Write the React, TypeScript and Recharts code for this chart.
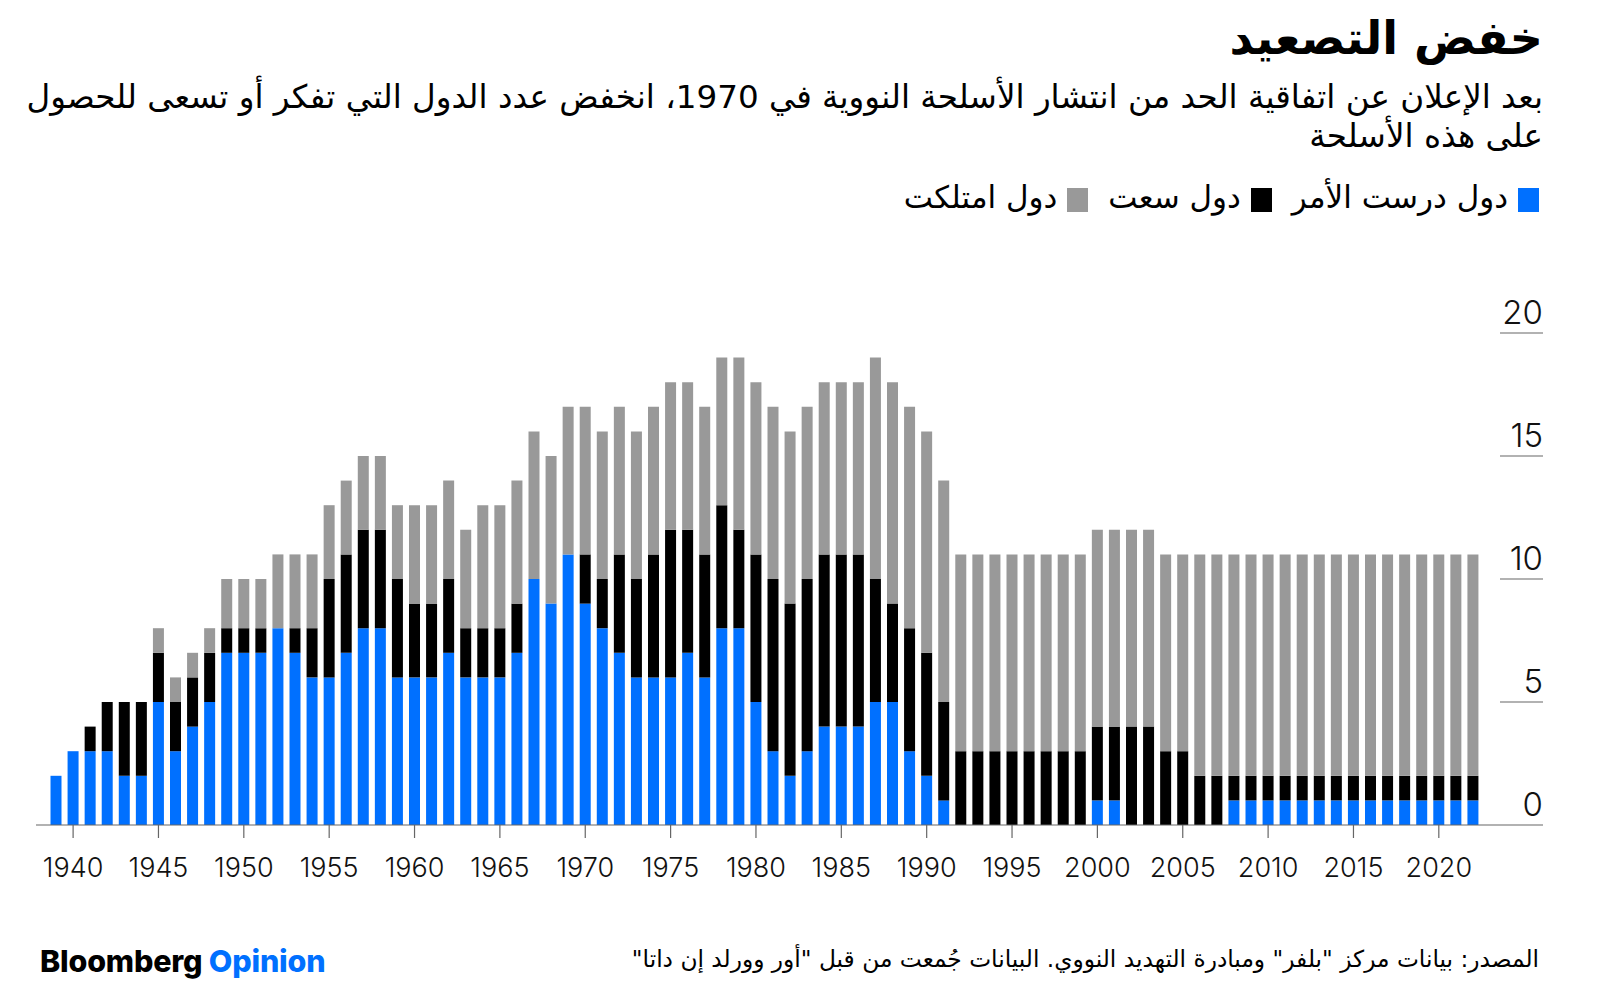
import { Bar, BarChart, XAxis, YAxis } from "recharts";

const years = [
  1939, 1940, 1941, 1942, 1943, 1944, 1945, 1946, 1947, 1948, 1949, 1950,
  1951, 1952, 1953, 1954, 1955, 1956, 1957, 1958, 1959, 1960, 1961, 1962,
  1963, 1964, 1965, 1966, 1967, 1968, 1969, 1970, 1971, 1972, 1973, 1974,
  1975, 1976, 1977, 1978, 1979, 1980, 1981, 1982, 1983, 1984, 1985, 1986,
  1987, 1988, 1989, 1990, 1991, 1992, 1993, 1994, 1995, 1996, 1997, 1998,
  1999, 2000, 2001, 2002, 2003, 2004, 2005, 2006, 2007, 2008, 2009, 2010,
  2011, 2012, 2013, 2014, 2015, 2016, 2017, 2018, 2019, 2020, 2021, 2022,
];

// دول درست الأمر
const explored = [
  2, 3, 3, 3, 2, 2, 5, 3, 4, 5, 7, 7,
  7, 8, 7, 6, 6, 7, 8, 8, 6, 6, 6, 7,
  6, 6, 6, 7, 10, 9, 11, 9, 8, 7, 6, 6,
  6, 7, 6, 8, 8, 5, 3, 2, 3, 4, 4, 4,
  5, 5, 3, 2, 1, 0, 0, 0, 0, 0, 0, 0,
  0, 1, 1, 0, 0, 0, 0, 0, 0, 1, 1, 1,
  1, 1, 1, 1, 1, 1, 1, 1, 1, 1, 1, 1,
];

// دول سعت
const pursued = [
  0, 0, 1, 2, 3, 3, 2, 2, 2, 2, 1, 1,
  1, 0, 1, 2, 4, 4, 4, 4, 4, 3, 3, 3,
  2, 2, 2, 2, 0, 0, 0, 2, 2, 4, 4, 5,
  6, 5, 5, 5, 4, 6, 7, 7, 7, 7, 7, 7,
  5, 4, 5, 5, 4, 3, 3, 3, 3, 3, 3, 3,
  3, 3, 3, 4, 4, 3, 3, 2, 2, 1, 1, 1,
  1, 1, 1, 1, 1, 1, 1, 1, 1, 1, 1, 1,
];

// دول امتلكت
const possessed = [
  0, 0, 0, 0, 0, 0, 1, 1, 1, 1, 2, 2,
  2, 3, 3, 3, 3, 3, 3, 3, 3, 4, 4, 4,
  4, 5, 5, 5, 6, 6, 6, 6, 6, 6, 6, 6,
  6, 6, 6, 6, 7, 7, 7, 7, 7, 7, 7, 7,
  9, 9, 9, 9, 9, 8, 8, 8, 8, 8, 8, 8,
  8, 8, 8, 8, 8, 8, 8, 9, 9, 9, 9, 9,
  9, 9, 9, 9, 9, 9, 9, 9, 9, 9, 9, 9,
];

const yTicks = [0, 5, 10, 15, 20];

const BLUE = "#0070ff";
const GRAY = "#999999";
const ARABIC = '"DejaVu Sans", sans-serif';
const LATIN = 'Inter, "Liberation Sans", Arial, sans-serif';

const data = years.map((year, i) => ({
  year,
  explored: explored[i],
  pursued: pursued[i],
  possessed: possessed[i],
}));

function YearTick({ x, y, payload }: any) {
  const v = Number(payload.value);
  if (v % 5 !== 0) return <g />;
  return (
    <g>
      <line x1={x} x2={x} y1={y} y2={y + 13} stroke="#666" strokeWidth={1.2} />
      <text
        x={x}
        y={y + 52}
        textAnchor="middle"
        fontSize={27}
        fontWeight={300}
        fontFamily={LATIN}
        fill="#111"
      >
        {v}
      </text>
    </g>
  );
}

function ValueTick({ x, y, payload }: any) {
  return (
    <g>
      <line x1={x} x2={x + 43} y1={y} y2={y} stroke="#666" strokeWidth={1.2} />
      <text
        x={x + 43}
        y={y - 9}
        textAnchor="end"
        fontSize={33}
        fontWeight={300}
        fontFamily={LATIN}
        fill="#111"
      >
        {payload.value}
      </text>
    </g>
  );
}

function Swatch({ color }: { color: string }) {
  return (
    <span
      style={{
        display: "inline-block",
        width: 21,
        height: 24,
        background: color,
        marginLeft: 10,
        verticalAlign: "middle",
      }}
    />
  );
}

export default function App() {
  return (
    <div
      style={{
        position: "absolute",
        left: 0,
        top: 0,
        width: 1600,
        height: 993,
        background: "#fff",
        overflow: "hidden",
        fontFamily: ARABIC,
        color: "#000",
      }}
    >
      <div
        dir="rtl"
        style={{
          position: "absolute",
          right: 57,
          top: 9,
          fontSize: 46,
          fontWeight: 700,
          lineHeight: "58px",
          whiteSpace: "nowrap",
        }}
      >
        خفض التصعيد
      </div>
      <div
        dir="rtl"
        style={{
          position: "absolute",
          right: 57,
          top: 78,
          fontSize: 32.6,
          lineHeight: "39px",
          whiteSpace: "nowrap",
          textAlign: "right",
        }}
      >
        <div>
          بعد الإعلان عن اتفاقية الحد من انتشار الأسلحة النووية في 1970، انخفض عدد الدول التي تفكر أو تسعى للحصول
        </div>
        <div>على هذه الأسلحة</div>
      </div>
      <div
        dir="rtl"
        style={{
          position: "absolute",
          right: 61,
          top: 177,
          fontSize: 31,
          lineHeight: "40px",
          whiteSpace: "nowrap",
          display: "flex",
          gap: 20,
        }}
      >
        <span>
          <Swatch color={BLUE} />
          دول درست الأمر
        </span>
        <span>
          <Swatch color="#000" />
          دول سعت
        </span>
        <span>
          <Swatch color={GRAY} />
          دول امتلكت
        </span>
      </div>

      <div style={{ position: "absolute", left: 0, top: 280 }}>
        <BarChart
          width={1600}
          height={605}
          data={data}
          margin={{ top: 53, right: 57, left: 36, bottom: 0 }}
          barSize={11}
        >
          <XAxis
            dataKey="year"
            interval={0}
            height={60}
            tickSize={0}
            tickMargin={0}
            tickLine={false}
            axisLine={{ stroke: "#666", strokeWidth: 1.2 }}
            padding={{ left: 11.5, right: 18.5 }}
            tick={<YearTick />}
          />
          <YAxis
            orientation="right"
            domain={[0, 20]}
            ticks={yTicks}
            width={43}
            tickSize={0}
            tickMargin={0}
            tickLine={false}
            axisLine={false}
            tick={<ValueTick />}
          />
          <Bar dataKey="explored" stackId="a" fill={BLUE} isAnimationActive={false} />
          <Bar dataKey="pursued" stackId="a" fill="#000" isAnimationActive={false} />
          <Bar dataKey="possessed" stackId="a" fill={GRAY} isAnimationActive={false} />
        </BarChart>
      </div>

      <div
        style={{
          position: "absolute",
          left: 40,
          top: 943,
          fontFamily: LATIN,
          fontSize: 30.5,
          fontWeight: 800,
          letterSpacing: -0.2,
          lineHeight: "36px",
          whiteSpace: "nowrap",
        }}
      >
        Bloomberg <span style={{ color: BLUE }}>Opinion</span>
      </div>
      <div
        dir="rtl"
        style={{
          position: "absolute",
          right: 61,
          top: 942,
          fontSize: 23.3,
          lineHeight: "34px",
          whiteSpace: "nowrap",
        }}
      >
        المصدر: بيانات مركز "بلفر" ومبادرة التهديد النووي. البيانات جُمعت من قبل "أور وورلد إن داتا"
      </div>
    </div>
  );
}
